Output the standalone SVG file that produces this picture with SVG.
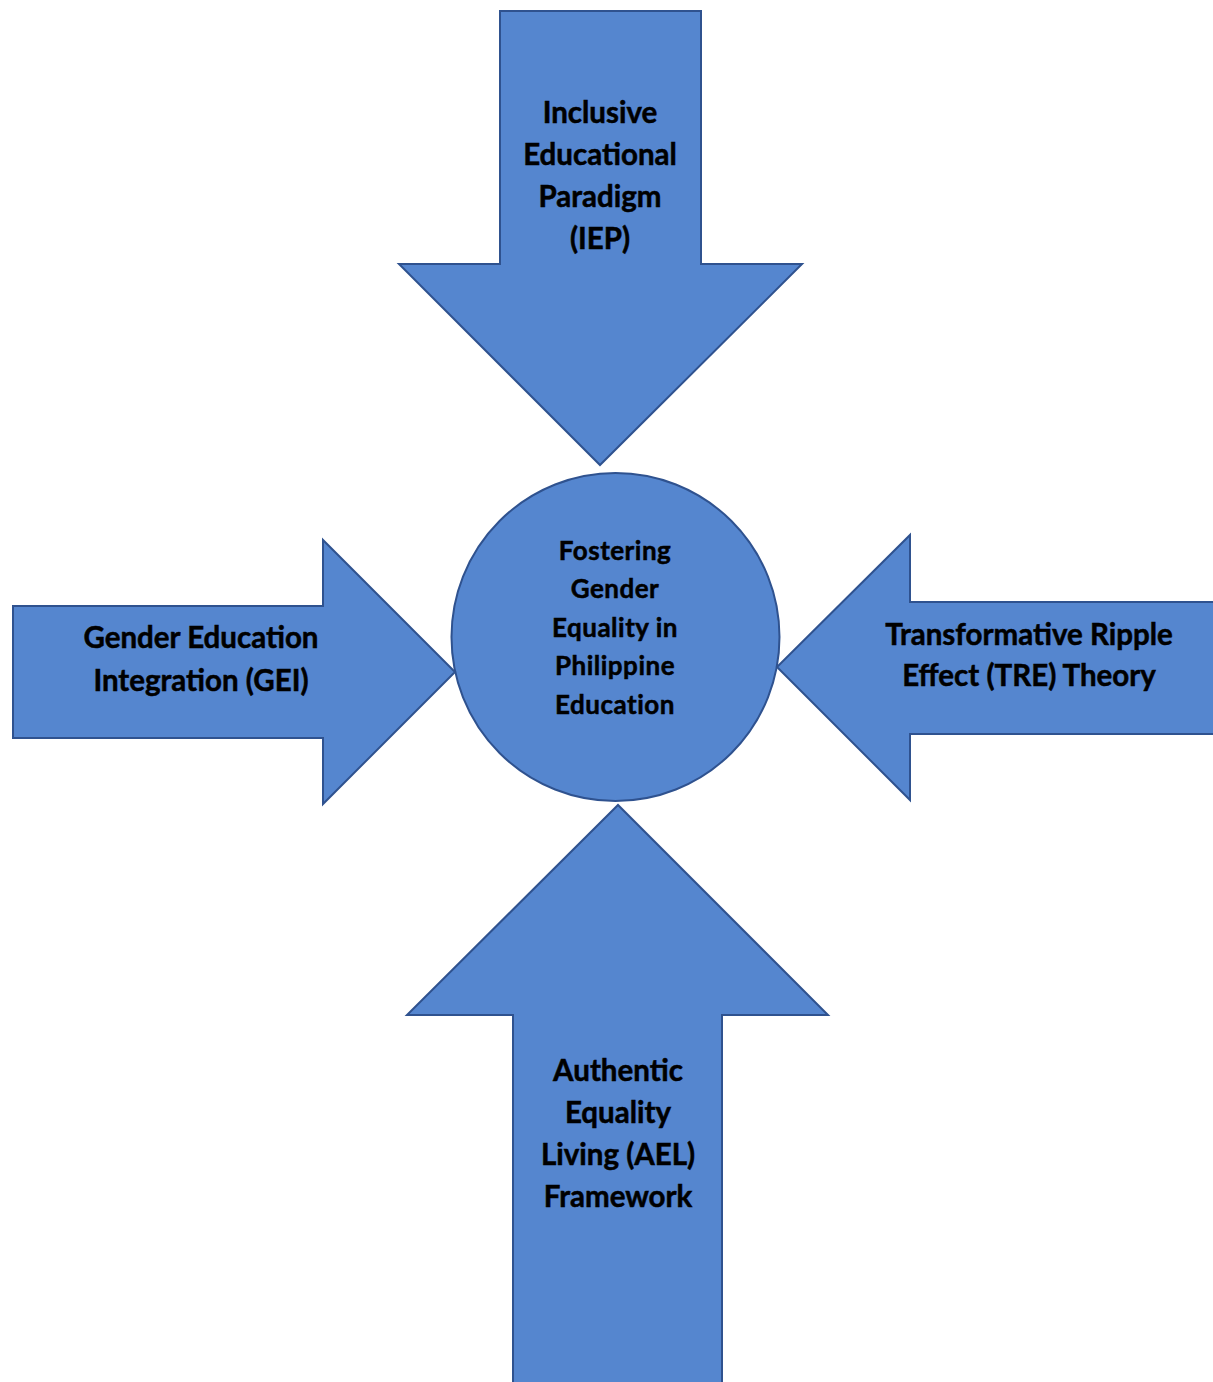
<svg xmlns="http://www.w3.org/2000/svg" width="1213" height="1382" viewBox="0 0 1213 1382">
<style>
.shape{fill:#5586CF;stroke:#2F528F;stroke-width:2;stroke-linejoin:miter}
.lbl{font-family:Lato,"Open Sans","Liberation Sans",sans-serif;font-weight:bold;fill:#000;stroke:#000;stroke-width:0.5;text-anchor:middle}
.big{font-size:29.5px}
.small{font-size:26px;letter-spacing:0.5px}
</style>
<rect width="1213" height="1382" fill="#fff"/>
<g id="connectors"></g>
<g id="node-center">
<circle class="shape" cx="615.5" cy="637" r="164"/>
<text class="lbl small" x="615" y="560">Fostering</text>
<text class="lbl small" x="615" y="598">Gender</text>
<text class="lbl small" x="615" y="637">Equality in</text>
<text class="lbl small" x="615" y="675">Philippine</text>
<text class="lbl small" x="615" y="714">Education</text>
</g>
<g id="node-iep">
<polygon class="shape" points="500,11 701,11 701,264 802,264 600,465 399,264 500,264"/>
<text class="lbl big" x="600" y="123">Inclusive</text>
<text class="lbl big" x="600" y="165">Educational</text>
<text class="lbl big" x="600" y="207">Paradigm</text>
<text class="lbl big" x="600" y="249">(IEP)</text>
</g>
<g id="node-gei">
<polygon class="shape" points="13,606 323,606 323,540 455,672 323,804 323,738 13,738"/>
<text class="lbl big" x="201" y="648">Gender Education</text>
<text class="lbl big" x="201" y="691">Integration (GEI)</text>
</g>
<g id="node-tre">
<polygon class="shape" points="1216,602 910,602 910,535 777,667 910,800 910,734 1216,734"/>
<text class="lbl big" x="1029" y="645">Transformative Ripple</text>
<text class="lbl big" x="1029" y="686">Effect (TRE) Theory</text>
</g>
<g id="node-ael">
<polygon class="shape" points="513,1385 513,1015 407,1015 618,805 828,1015 722,1015 722,1385"/>
<text class="lbl big" x="618" y="1081">Authentic</text>
<text class="lbl big" x="618" y="1123">Equality</text>
<text class="lbl big" x="618" y="1165">Living (AEL)</text>
<text class="lbl big" x="618" y="1207">Framework</text>
</g>
</svg>
